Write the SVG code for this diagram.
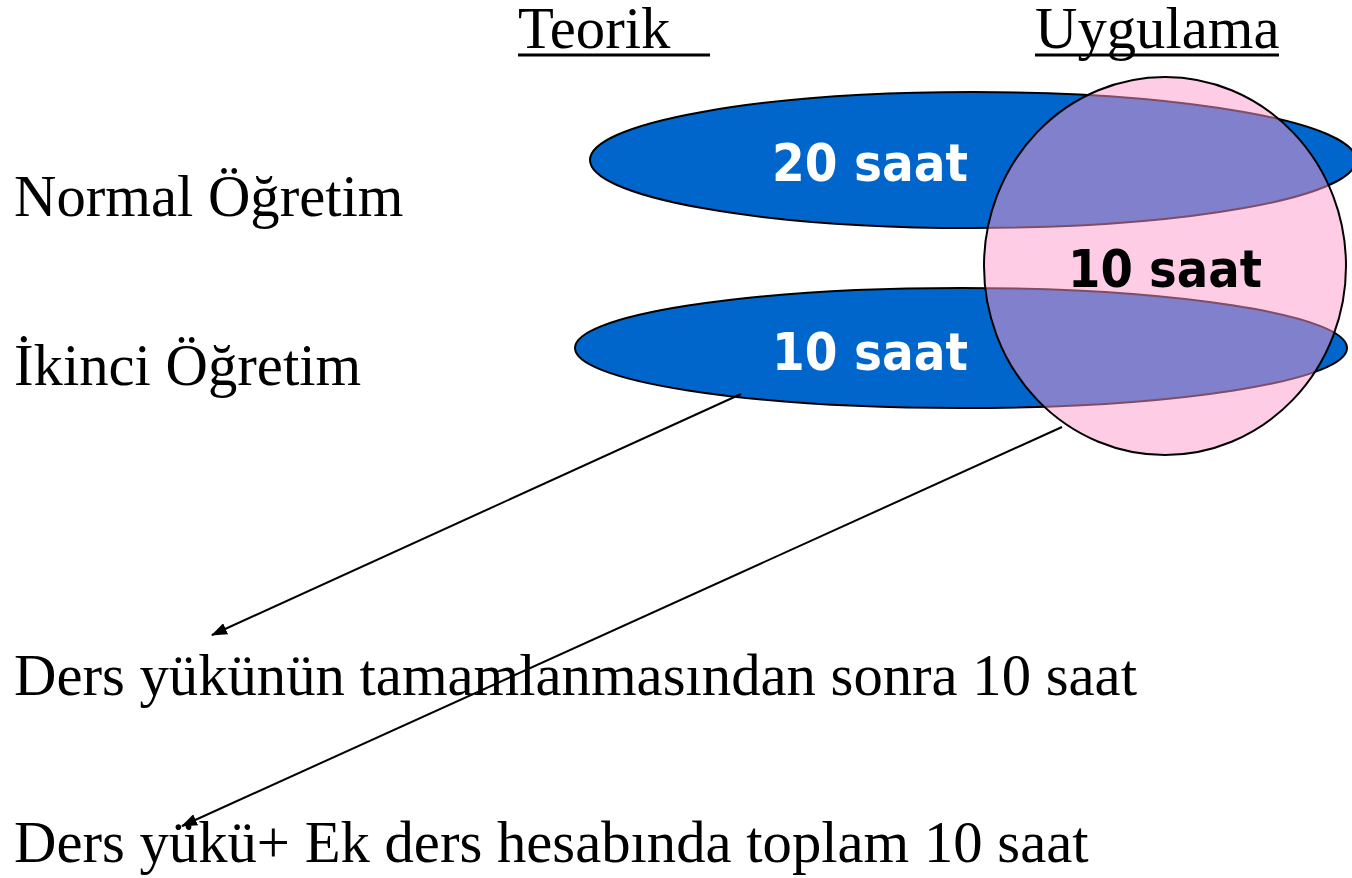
<svg xmlns="http://www.w3.org/2000/svg" width="1352" height="878" viewBox="0 0 1352 878">
<style>
.serif{font-family:"Liberation Serif","Times New Roman",serif;font-size:58.7px;fill:#000}
.bold{font-family:"DejaVu Sans",Verdana,sans-serif;font-weight:bold;font-size:51px;text-anchor:middle}
.ell{fill:#0066CC;stroke:#000;stroke-width:2}
.conn{stroke:#000;stroke-width:2;fill:none;marker-end:url(#ah)}
</style>
<defs>
<marker id="ah" viewBox="0 0 16 12" refX="15" refY="6" markerWidth="16" markerHeight="12" markerUnits="userSpaceOnUse" orient="auto">
<path d="M0,0 L16,6 L0,12 z" fill="#000"/>
</marker>
</defs>
<rect width="1352" height="878" fill="#fff"/>
<g id="headers">
<text class="serif" x="518" y="48">Teorik</text>
<line x1="518" y1="55" x2="710" y2="55" stroke="#000" stroke-width="3"/>
<text class="serif" x="1035" y="48">Uygulama</text>
<line x1="1035" y1="55" x2="1279" y2="55" stroke="#000" stroke-width="3"/>
</g>
<g id="labels">
<text class="serif" x="14" y="216">Normal Öğretim</text>
<text class="serif" x="14" y="385">İkinci Öğretim</text>
</g>
<g id="normal">
<ellipse class="ell" cx="973" cy="160" rx="383" ry="68"/>
<text class="bold" x="870" y="181" fill="#fff" textLength="196" lengthAdjust="spacingAndGlyphs">20 saat</text>
</g>
<g id="ikinci">
<ellipse class="ell" cx="961" cy="348" rx="386" ry="60"/>
<text class="bold" x="870" y="370" fill="#fff" textLength="196" lengthAdjust="spacingAndGlyphs">10 saat</text>
</g>
<g id="uygulama">
<ellipse cx="1165" cy="266" rx="181" ry="189" fill="#FF99CC" fill-opacity="0.5" stroke="none"/>
<ellipse cx="1165" cy="266" rx="181" ry="189" fill="none" stroke="#000" stroke-width="2"/>
<text class="bold" x="1165" y="287" fill="#000" textLength="194" lengthAdjust="spacingAndGlyphs">10 saat</text>
</g>
<g id="connectors">
<line class="conn" x1="741" y1="394" x2="212" y2="635"/>
<line class="conn" x1="1062" y1="427" x2="182" y2="826"/>
</g>
<g id="notes">
<text class="serif" x="14" y="695">Ders yükünün tamamlanmasından sonra 10 saat</text>
<text class="serif" x="14" y="862">Ders yükü+ Ek ders hesabında toplam 10 saat</text>
</g>
</svg>
